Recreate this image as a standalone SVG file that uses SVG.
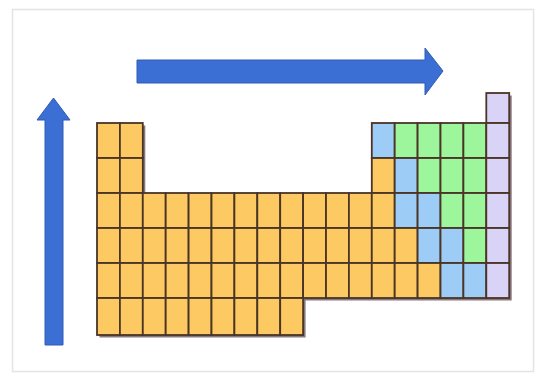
<svg xmlns="http://www.w3.org/2000/svg" width="544" height="381" viewBox="0 0 544 381">
<style>
.c{stroke:#4a3426;stroke-width:1.8}
.o{fill:#fcc962}
.b{fill:#9dcdf6}
.g{fill:#9df59c}
.p{fill:#d9d4f7}
.arrow{fill:#3b6fd3;stroke:#2f5cb8;stroke-width:1}
</style>
<rect x="0" y="0" width="544" height="381" fill="#ffffff"/>
<rect id="frame" x="12.5" y="9.5" width="521" height="362" fill="none" stroke="#e4e4e4" stroke-width="1.5"/>
<g id="arrows">
<path id="arrow-right" class="arrow" d="M137,60 H425 V48 L443,71 L425,95 V83 H137 Z"/>
<path id="arrow-up" class="arrow" d="M45,345 V120 H37 L53.5,98 L70,120 H63 V345 Z"/>
</g>
<g id="table">
<path id="shadow" d="M97,123 H142.8 V193 H371.8 V123 H486.3 V93 H509.2 V298 H303.1 V335 H97 Z" transform="translate(2.5,2.5)" fill="#6b5560" opacity="0.8"/>
<g id="row0">
<rect class="c p" x="486.3" y="93" width="22.9" height="30"/>
</g>
<g id="row1">
<rect class="c o" x="97" y="123" width="22.9" height="35"/>
<rect class="c o" x="119.9" y="123" width="22.9" height="35"/>
<rect class="c b" x="371.8" y="123" width="22.9" height="35"/>
<rect class="c g" x="394.7" y="123" width="22.9" height="35"/>
<rect class="c g" x="417.6" y="123" width="22.9" height="35"/>
<rect class="c g" x="440.5" y="123" width="22.9" height="35"/>
<rect class="c g" x="463.4" y="123" width="22.9" height="35"/>
<rect class="c p" x="486.3" y="123" width="22.9" height="35"/>
</g>
<g id="row2">
<rect class="c o" x="97" y="158" width="22.9" height="35"/>
<rect class="c o" x="119.9" y="158" width="22.9" height="35"/>
<rect class="c o" x="371.8" y="158" width="22.9" height="35"/>
<rect class="c b" x="394.7" y="158" width="22.9" height="35"/>
<rect class="c g" x="417.6" y="158" width="22.9" height="35"/>
<rect class="c g" x="440.5" y="158" width="22.9" height="35"/>
<rect class="c g" x="463.4" y="158" width="22.9" height="35"/>
<rect class="c p" x="486.3" y="158" width="22.9" height="35"/>
</g>
<g id="row3">
<rect class="c o" x="97" y="193" width="22.9" height="35"/>
<rect class="c o" x="119.9" y="193" width="22.9" height="35"/>
<rect class="c o" x="142.8" y="193" width="22.9" height="35"/>
<rect class="c o" x="165.7" y="193" width="22.9" height="35"/>
<rect class="c o" x="188.6" y="193" width="22.9" height="35"/>
<rect class="c o" x="211.5" y="193" width="22.9" height="35"/>
<rect class="c o" x="234.4" y="193" width="22.9" height="35"/>
<rect class="c o" x="257.3" y="193" width="22.9" height="35"/>
<rect class="c o" x="280.2" y="193" width="22.9" height="35"/>
<rect class="c o" x="303.1" y="193" width="22.9" height="35"/>
<rect class="c o" x="326" y="193" width="22.9" height="35"/>
<rect class="c o" x="348.9" y="193" width="22.9" height="35"/>
<rect class="c o" x="371.8" y="193" width="22.9" height="35"/>
<rect class="c b" x="394.7" y="193" width="22.9" height="35"/>
<rect class="c b" x="417.6" y="193" width="22.9" height="35"/>
<rect class="c g" x="440.5" y="193" width="22.9" height="35"/>
<rect class="c g" x="463.4" y="193" width="22.9" height="35"/>
<rect class="c p" x="486.3" y="193" width="22.9" height="35"/>
</g>
<g id="row4">
<rect class="c o" x="97" y="228" width="22.9" height="35"/>
<rect class="c o" x="119.9" y="228" width="22.9" height="35"/>
<rect class="c o" x="142.8" y="228" width="22.9" height="35"/>
<rect class="c o" x="165.7" y="228" width="22.9" height="35"/>
<rect class="c o" x="188.6" y="228" width="22.9" height="35"/>
<rect class="c o" x="211.5" y="228" width="22.9" height="35"/>
<rect class="c o" x="234.4" y="228" width="22.9" height="35"/>
<rect class="c o" x="257.3" y="228" width="22.9" height="35"/>
<rect class="c o" x="280.2" y="228" width="22.9" height="35"/>
<rect class="c o" x="303.1" y="228" width="22.9" height="35"/>
<rect class="c o" x="326" y="228" width="22.9" height="35"/>
<rect class="c o" x="348.9" y="228" width="22.9" height="35"/>
<rect class="c o" x="371.8" y="228" width="22.9" height="35"/>
<rect class="c o" x="394.7" y="228" width="22.9" height="35"/>
<rect class="c b" x="417.6" y="228" width="22.9" height="35"/>
<rect class="c b" x="440.5" y="228" width="22.9" height="35"/>
<rect class="c g" x="463.4" y="228" width="22.9" height="35"/>
<rect class="c p" x="486.3" y="228" width="22.9" height="35"/>
</g>
<g id="row5">
<rect class="c o" x="97" y="263" width="22.9" height="35"/>
<rect class="c o" x="119.9" y="263" width="22.9" height="35"/>
<rect class="c o" x="142.8" y="263" width="22.9" height="35"/>
<rect class="c o" x="165.7" y="263" width="22.9" height="35"/>
<rect class="c o" x="188.6" y="263" width="22.9" height="35"/>
<rect class="c o" x="211.5" y="263" width="22.9" height="35"/>
<rect class="c o" x="234.4" y="263" width="22.9" height="35"/>
<rect class="c o" x="257.3" y="263" width="22.9" height="35"/>
<rect class="c o" x="280.2" y="263" width="22.9" height="35"/>
<rect class="c o" x="303.1" y="263" width="22.9" height="35"/>
<rect class="c o" x="326" y="263" width="22.9" height="35"/>
<rect class="c o" x="348.9" y="263" width="22.9" height="35"/>
<rect class="c o" x="371.8" y="263" width="22.9" height="35"/>
<rect class="c o" x="394.7" y="263" width="22.9" height="35"/>
<rect class="c o" x="417.6" y="263" width="22.9" height="35"/>
<rect class="c b" x="440.5" y="263" width="22.9" height="35"/>
<rect class="c b" x="463.4" y="263" width="22.9" height="35"/>
<rect class="c p" x="486.3" y="263" width="22.9" height="35"/>
</g>
<g id="row6">
<rect class="c o" x="97" y="298" width="22.9" height="37"/>
<rect class="c o" x="119.9" y="298" width="22.9" height="37"/>
<rect class="c o" x="142.8" y="298" width="22.9" height="37"/>
<rect class="c o" x="165.7" y="298" width="22.9" height="37"/>
<rect class="c o" x="188.6" y="298" width="22.9" height="37"/>
<rect class="c o" x="211.5" y="298" width="22.9" height="37"/>
<rect class="c o" x="234.4" y="298" width="22.9" height="37"/>
<rect class="c o" x="257.3" y="298" width="22.9" height="37"/>
<rect class="c o" x="280.2" y="298" width="22.9" height="37"/>
</g>
</g>
</svg>
